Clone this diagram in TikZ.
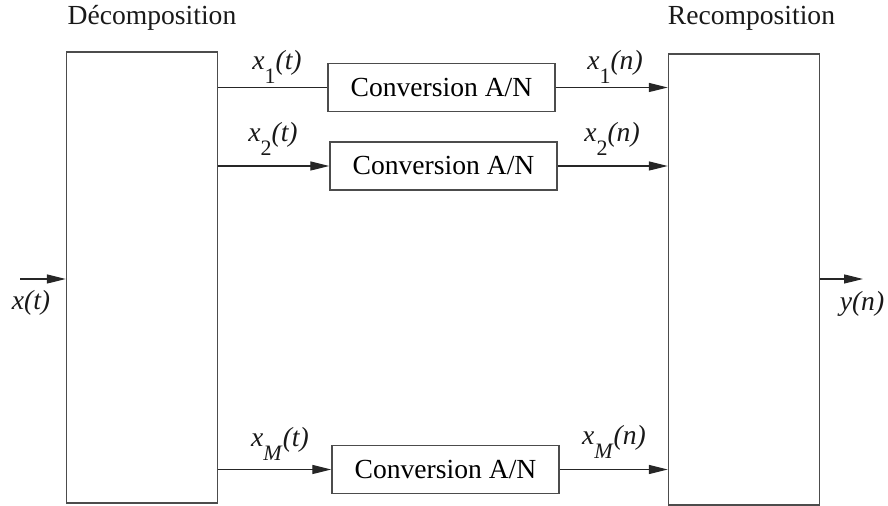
\documentclass[tikz,border=0pt]{standalone}
\usepackage{fontspec}
\setmainfont{LiberationSerif}[Extension=.ttf,UprightFont=*-Regular,ItalicFont=*-Italic,BoldFont=*-Bold]
\usetikzlibrary{arrows.meta}
\newcommand{\sig}[3]{\textit{#1}\raisebox{-7pt}{\fontsize{11}{12}\selectfont#2}\textit{(#3)}}

\begin{document}
\begin{tikzpicture}[x=0.5pt,y=-0.5pt,
  bloc/.style={draw=black!70,line width=0.7pt,minimum width=75.5pt,minimum height=225.5pt,inner sep=0pt},
  conv/.style={draw=black!70,line width=0.7pt,minimum width=113.5pt,minimum height=24pt,inner sep=0pt},
  fil/.style={black!85,line width=0.6pt},
  fleche/.style={fil,-{Triangle[length=9.5pt,width=4.5pt]}},
  lbl/.style={anchor=base,inner sep=0pt,text=black!90}]
\fontsize{13.8}{16}\selectfont
\useasboundingbox (0,0) rectangle (888,506);

% blocs
\node[bloc] (dec) at (142,277.5) {};
\node[bloc] (rec) at (744,279.5) {};
\node[lbl] (tdec) at (152,25) {Décomposition};
\node[lbl] (trec) at (751.5,25) {Recomposition};

\node[conv] (conv1) at (441.5,87.5) {Conversion A/N};
\node[conv] (conv2) at (443.5,166) {Conversion A/N};
\node[conv] (convM) at (445.5,469.5) {Conversion A/N};

% entree / sortie
\coordinate (xin) at (20,279);
\coordinate (yout) at (863,279);
\draw[fleche] (xin) -- (xin -| dec.west);
\draw[fleche] (rec.east |- yout) -- (yout);
\node[lbl] (lxt) at (31,310) {\textit{x(t)}};
\node[lbl] (lyn) at (862,311) {\textit{y(n)}};

% voies
\draw[fil] (dec.east |- conv1.west) -- (conv1.west);
\draw[fleche] (dec.east |- conv2.west) -- (conv2.west);
\draw[fleche] (dec.east |- convM.west) -- (convM.west);
\draw[fleche] (conv1.east) -- (conv1.east -| rec.west);
\draw[fleche] (conv2.east) -- (conv2.east -| rec.west);
\draw[fleche] (convM.east) -- (convM.east -| rec.west);

\node[lbl] (x1t) at (277,70) {\sig{x}{1}{t}};
\node[lbl] (x2t) at (273,142) {\sig{x}{2}{t}};
\node[lbl] (xMt) at (280,447) {\sig{x}{\textit{M}}{t}};
\node[lbl] (x1n) at (615,70) {\sig{x}{1}{n}};
\node[lbl] (x2n) at (612,142) {\sig{x}{2}{n}};
\node[lbl] (xMn) at (614,445) {\sig{x}{\textit{M}}{n}};
\end{tikzpicture}
\end{document}
